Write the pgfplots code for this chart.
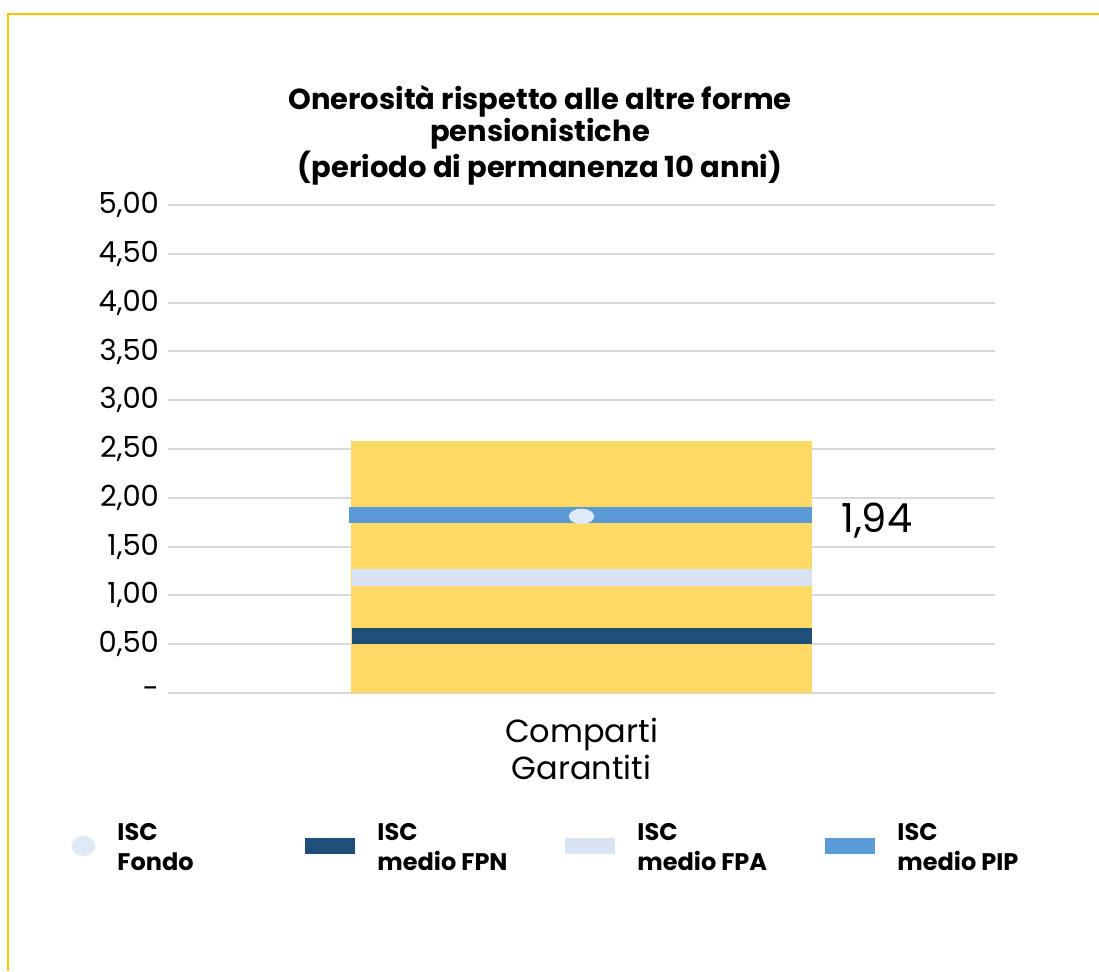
\documentclass[border=0pt]{standalone}
\usepackage{fontspec}
\setmainfont{Poppins}
\usepackage{pgfplots}
\pgfplotsset{compat=1.18}

\definecolor{yel}{HTML}{FFD966}
\definecolor{fpn}{HTML}{1F4E79}
\definecolor{fpa}{HTML}{DAE3F3}
\definecolor{pip}{HTML}{5B9BD5}
\definecolor{fondo}{HTML}{DEEBF7}
\definecolor{frame}{HTML}{FFC000}
\definecolor{gridc}{HTML}{D9D9D9}

\pgfplotsset{
  bandleg/.style={legend image code/.code={
      \path[draw=none] (0pt,-10pt) rectangle (25pt,10pt);
      \fill[draw=none] (0pt,-7.5pt) rectangle (25pt,0.5pt);}},
}

\begin{document}
\begin{tikzpicture}
\useasboundingbox (0,0) rectangle (549.5pt,485.5pt);
% cornice
\draw[frame, line width=1.2pt] (4pt,0) -- (4pt,478.5pt) -- (549.5pt,478.5pt);
% titolo
\node[font=\bfseries\fontsize{14.5}{16}\selectfont, align=center] at (270pt,418pt)
  {Onerosità rispetto alle altre forme\\pensionistiche\\(periodo di permanenza 10 anni)};

\begin{axis}[
    at={(84pt,139pt)}, anchor=south west,
    scale only axis,
    width=413.5pt, height=244pt,
    xmin=0, xmax=1, ymin=0, ymax=5,
    axis line style={draw=none},
    tick style={draw=none},
    ymajorgrids,
    grid style={gridc, line width=1pt},
    ytick={0,0.5,1,1.5,2,2.5,3,3.5,4,4.5,5},
    yticklabels={{-},{0,50},{1,00},{1,50},{2,00},{2,50},{3,00},{3,50},{4,00},{4,50},{5,00}},
    yticklabel style={font=\fontsize{14.5}{16}\selectfont, xshift=-1pt},
    xtick={0.5},
    xticklabels={Comparti\\Garantiti},
    xticklabel style={align=center, font=\fontsize{16}{18.5}\selectfont, yshift=-9pt},
    clip=false,
    legend columns=4,
    legend style={at={(-0.1511,-0.299)}, anchor=west, draw=none, fill=none,
        inner sep=0pt, nodes={inner sep=0pt},
        font=\bfseries\fontsize{12}{15}\selectfont,
        /tikz/every odd column/.append style={column sep=11pt}},
]
% barra (intervallo)
\addplot[ybar, bar width=230pt, bar shift=0pt, fill=yel, draw=none, forget plot]
    coordinates {(0.5,2.58)};

\addlegendimage{fondo, legend image code/.code={
    \path[draw=none] (0pt,-10pt) rectangle (25pt,10pt);
    \fill[fondo, draw=none] (20pt,-3.5pt) ellipse [x radius=6pt, y radius=5pt];}}
\addlegendentry{\begin{tabular}{@{}p{94pt}@{}}ISC\\Fondo\end{tabular}}

\addplot[fpn, line width=8pt, bandleg] coordinates {(0.2225,0.584) (0.7787,0.584)};
\addlegendentry{\begin{tabular}{@{}p{94pt}@{}}ISC\\medio FPN\end{tabular}}

\addplot[fpa, line width=8.5pt, bandleg] coordinates {(0.2225,1.183) (0.7787,1.183)};
\addlegendentry{\begin{tabular}{@{}p{94pt}@{}}ISC\\medio FPA\end{tabular}}

\addplot[pip, line width=8pt, bandleg] coordinates {(0.2189,1.824) (0.7787,1.824)};
\addlegendentry{\begin{tabular}{@{}p{94pt}@{}}ISC\\medio PIP\end{tabular}}

\addplot[fondo, only marks, mark=*, mark size=3.6pt, forget plot,
    mark options={fill=fondo, draw=fondo, xscale=1.7}]
    coordinates {(0.5,1.81)};

\node[font=\fontsize{20}{22}\selectfont] at (axis cs:0.857,1.77) {1,94};
\end{axis}
\end{tikzpicture}
\end{document}
